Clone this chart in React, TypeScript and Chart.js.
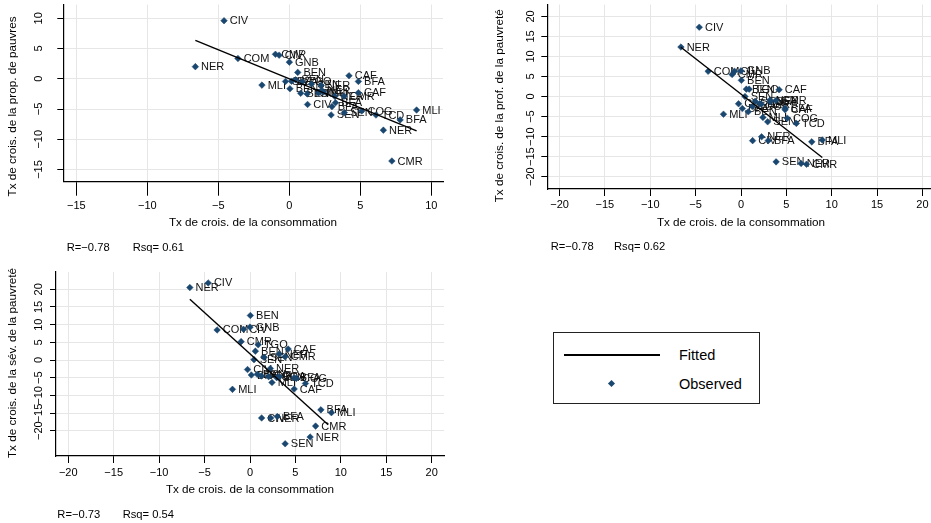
import React, { useEffect, useRef } from "react";
import { Chart, registerables } from "chart.js";
Chart.register(...registerables);

// ---- data ----
const countryLabels = ["NER","CIV","COM","MLI","CMR","CIV","GNB","BEN","BEN","TGO","SEN","CIV","BFA","BEN","TGO","CIV","SEN","NER","NER","TGO","MLI","SEN","BFA","BFA","NER","CMR","SEN","CAF","BFA","CAF","COG","TCD","NER","CMR","BFA","MLI"];
const consGrowth = [-6.62,-4.6,-3.62,-1.93,-0.98,-0.72,0.0,0.04,0.59,0.9,0.44,-0.27,0.15,0.8,1.25,1.28,1.56,2.24,2.27,2.05,2.42,2.94,3.0,3.25,3.2,3.85,3.87,4.2,4.86,4.86,5.1,6.1,6.62,7.22,7.8,8.96];
const headcountGrowth = [2.0,9.6,3.35,-1.05,4.05,3.9,2.75,-1.65,1.05,-0.5,-0.17,-0.44,-0.4,-2.4,-2.5,-4.25,-0.87,-1.09,-1.9,-2.35,-2.2,-5.98,-4.6,-3.95,-2.9,-2.9,-5.6,0.5,-0.44,-2.3,-5.33,-6.0,-8.5,-13.6,-6.8,-5.17];
const gapGrowth = [12.35,17.3,6.3,-4.4,5.5,6.3,6.4,4.05,1.85,1.85,0.0,-1.8,-3.0,-3.8,-2.5,-11.0,-1.2,-1.9,-10.05,-1.75,-5.2,-6.3,-11.0,-1.3,-0.9,-1.0,-16.3,1.7,-2.9,-3.3,-5.4,-6.7,-16.7,-16.9,-11.3,-10.85];
const severityGrowth = [20.5,21.8,8.5,-8.3,5.2,8.7,9.3,12.6,2.5,4.3,0.1,-2.7,-4.25,-4.05,-4.5,-16.4,0.75,-2.4,-16.4,-4.7,-6.35,-5.0,-16.0,-4.7,1.7,0.94,-23.7,3.1,-5.0,-8.2,-5.2,-6.65,-21.8,-18.7,-14.1,-14.9];

const fitX1 = [-6.62, 8.96];
const fitY1 = [6.36, -8.6];
const fitX2 = [-6.62, 8.96];
const fitY2 = [12.3, -15.2];
const fitX3 = [-6.62, 8.6];
const fitY3 = [17.2, -18.3];

const xTicks1 = [-15, -10, -5, 0, 5, 10];
const yTicks1 = [-15, -10, -5, 0, 5, 10];
const xTicks23 = [-20, -15, -10, -5, 0, 5, 10, 15, 20];
const yTicks23 = [-20, -15, -10, -5, 0, 5, 10, 15, 20];

const xTitle = "Tx de crois. de la consommation";
const yTitle1 = "Tx de crois. de la prop. de pauvres";
const yTitle2 = "Tx de crois. de la prof. de la pauvreté";
const yTitle3 = "Tx de crois. de la sév. de la pauvreté";
const rText = ["R=\u22120.78", "R=\u22120.78", "R=\u22120.73"];
const rsqText = ["Rsq= 0.61", "Rsq= 0.62", "Rsq= 0.54"];

// ---- styling / layout ----
const NAVY = "#1a476f";
const GRID = "#e6e6e6";
const FONT = '"Liberation Sans", Arial, Helvetica, sans-serif';
const CW = 940;
const CH = 523;

type Panel = {
  ys: number[]; fitX: number[]; fitY: number[];
  left: number; right: number; top: number; bottom: number;
  xMin: number; xMax: number; yMin: number; yMax: number;
  xTicks: number[]; yTicks: number[]; xTickLen: number;
  xLabelY: number; yLabelX: number;
  xTitleX: number; xTitleY: number; yTitleX: number; yTitleY: number; yTitle: string;
  noteY: number; rX: number; rsqX: number; r: string; rsq: string;
};

const panels: Panel[] = [
  {
    ys: headcountGrowth, fitX: fitX1, fitY: fitY1,
    left: 63.3, right: 443, top: 2, bottom: 181.7,
    xMin: -15.92, xMax: 10.82, yMin: -17.02, yMax: 12.28,
    xTicks: xTicks1, yTicks: yTicks1, xTickLen: 14,
    xLabelY: 205.7, yLabelX: 38.8,
    xTitleX: 253, xTitleY: 222.7, yTitleX: 12.7, yTitleY: 106.5, yTitle: yTitle1,
    noteY: 248.3, rX: 66.7, rsqX: 132.7, r: rText[0], rsq: rsqText[0],
  },
  {
    ys: gapGrowth, fitX: fitX2, fitY: fitY2,
    left: 547.3, right: 934.7, top: 4, bottom: 189,
    xMin: -21.35, xMax: 21.35, yMin: -23.07, yMax: 22.97,
    xTicks: xTicks23, yTicks: yTicks23, xTickLen: 7,
    xLabelY: 205, yLabelX: 530.8,
    xTitleX: 741, xTitleY: 222.3, yTitleX: 499.3, yTitleY: 105.8, yTitle: yTitle2,
    noteY: 247.3, rX: 550.7, rsqX: 614, r: rText[1], rsq: rsqText[1],
  },
  {
    ys: severityGrowth, fitX: fitX3, fitY: fitY3,
    left: 56, right: 444, top: 272, bottom: 456,
    xMin: -21.35, xMax: 21.35, yMin: -27.16, yMax: 24.9,
    xTicks: xTicks23, yTicks: yTicks23, xTickLen: 7,
    xLabelY: 473.3, yLabelX: 38.8,
    xTitleX: 250, xTitleY: 490, yTitleX: 12.7, yTitleY: 363, yTitle: yTitle3,
    noteY: 515, rX: 57.3, rsqX: 122.7, r: rText[2], rsq: rsqText[2],
  },
];

function fmt(v: number): string {
  return v < 0 ? "\u2212" + Math.abs(v) : String(v);
}

function makeChart(canvas: HTMLCanvasElement, p: Panel): Chart {
  const points = consGrowth.map((x, i) => ({ x, y: p.ys[i] }));
  const fit = p.fitX.map((x, i) => ({ x, y: p.fitY[i] }));

  const textPlugin = {
    id: "stataText",
    beforeDatasetsDraw(chart: any) {
      const ctx = chart.ctx;
      const meta = chart.getDatasetMeta(1);
      ctx.save();
      ctx.fillStyle = "#111";
      ctx.font = `11px ${FONT}`;
      ctx.textAlign = "left";
      ctx.textBaseline = "middle";
      meta.data.forEach((el: any, i: number) => {
        ctx.fillText(countryLabels[i], el.x + 5.7, el.y + 0.5);
      });
      ctx.restore();
    },
    afterDraw(chart: any) {
      const ctx = chart.ctx;
      const xs = chart.scales.x;
      const ys = chart.scales.y;
      ctx.save();
      ctx.fillStyle = "#000";
      ctx.font = `11px ${FONT}`;
      ctx.textAlign = "center";
      ctx.textBaseline = "middle";
      p.xTicks.forEach((v) => {
        ctx.fillText(fmt(v), xs.getPixelForValue(v), p.xLabelY);
      });
      p.yTicks.forEach((v) => {
        ctx.save();
        ctx.translate(p.yLabelX, ys.getPixelForValue(v));
        ctx.rotate(-Math.PI / 2);
        ctx.fillText(fmt(v), 0, 0);
        ctx.restore();
      });
      ctx.font = `11.7px ${FONT}`;
      ctx.fillText(xTitle, p.xTitleX, p.xTitleY);
      ctx.save();
      ctx.translate(p.yTitleX, p.yTitleY);
      ctx.rotate(-Math.PI / 2);
      ctx.fillText(p.yTitle, 0, 0);
      ctx.restore();
      ctx.font = `11.2px ${FONT}`;
      ctx.textAlign = "left";
      ctx.fillText(p.r, p.rX, p.noteY);
      ctx.fillText(p.rsq, p.rsqX, p.noteY);
      ctx.restore();
    },
  };

  return new Chart(canvas, {
    type: "scatter",
    data: {
      datasets: [
        {
          type: "line",
          label: "Fitted",
          data: fit,
          borderColor: "#000",
          borderWidth: 1.4,
          pointRadius: 0,
          fill: false,
          order: 0,
        } as any,
        {
          label: "Observed",
          data: points,
          backgroundColor: NAVY,
          borderColor: NAVY,
          borderWidth: 0.5,
          pointStyle: "rectRot",
          pointRadius: 3.3,
          order: 1,
        },
      ],
    },
    options: {
      responsive: false,
      animation: false,
      devicePixelRatio: 1,
      layout: { padding: { left: 0, top: p.top, right: CW - p.right, bottom: 0 } },
      plugins: { legend: { display: false }, tooltip: { enabled: false } },
      scales: {
        x: {
          type: "linear",
          position: "bottom",
          min: p.xMin,
          max: p.xMax,
          afterBuildTicks: (s: any) => { s.ticks = p.xTicks.map((v) => ({ value: v })); },
          afterFit: (s: any) => { s.height = CH - p.bottom; },
          ticks: { display: false },
          grid: { color: GRID, lineWidth: 1, drawTicks: true, tickLength: p.xTickLen, tickColor: "#000", tickWidth: 1 },
          border: { display: true, color: "#000", width: 1.2 },
        },
        y: {
          type: "linear",
          position: "left",
          min: p.yMin,
          max: p.yMax,
          afterBuildTicks: (s: any) => { s.ticks = p.yTicks.map((v) => ({ value: v })); },
          afterFit: (s: any) => { s.width = p.left; },
          ticks: { display: false },
          grid: { color: GRID, lineWidth: 1, drawTicks: true, tickLength: 6, tickColor: "#000", tickWidth: 1 },
          border: { display: true, color: "#000", width: 1.2 },
        },
      },
    } as any,
    plugins: [textPlugin],
  });
}

function PanelCanvas({ panel }: { panel: Panel }) {
  const ref = useRef<HTMLCanvasElement | null>(null);
  useEffect(() => {
    if (!ref.current) return;
    const chart = makeChart(ref.current, panel);
    return () => chart.destroy();
  }, [panel]);
  return (
    <canvas
      ref={ref}
      width={CW}
      height={CH}
      style={{ position: "absolute", left: 0, top: 0, width: CW, height: CH }}
    />
  );
}

export default function App() {
  const legendText: React.CSSProperties = {
    position: "absolute",
    left: 125,
    fontFamily: FONT,
    fontSize: 14.5,
    color: "#000",
    lineHeight: "16px",
  };
  return (
    <div
      style={{
        position: "absolute",
        left: 0,
        top: 0,
        width: 931,
        height: 523,
        overflow: "hidden",
        background: "#fff",
      }}
    >
      {panels.map((p, i) => (
        <PanelCanvas key={i} panel={p} />
      ))}
      <div
        style={{
          position: "absolute",
          left: 553,
          top: 331.5,
          width: 205,
          height: 70.5,
          border: "1px solid #222",
          background: "#fff",
          boxSizing: "content-box",
        }}
      >
        <div style={{ position: "absolute", left: 10, top: 21.5, width: 96, height: 2, background: "#000" }} />
        <div style={{ ...legendText, top: 14.5 }}>Fitted</div>
        <div
          style={{
            position: "absolute",
            left: 54.5,
            top: 48.5,
            width: 5,
            height: 5,
            background: NAVY,
            transform: "rotate(45deg)",
          }}
        />
        <div style={{ ...legendText, top: 43.5 }}>Observed</div>
      </div>
    </div>
  );
}
